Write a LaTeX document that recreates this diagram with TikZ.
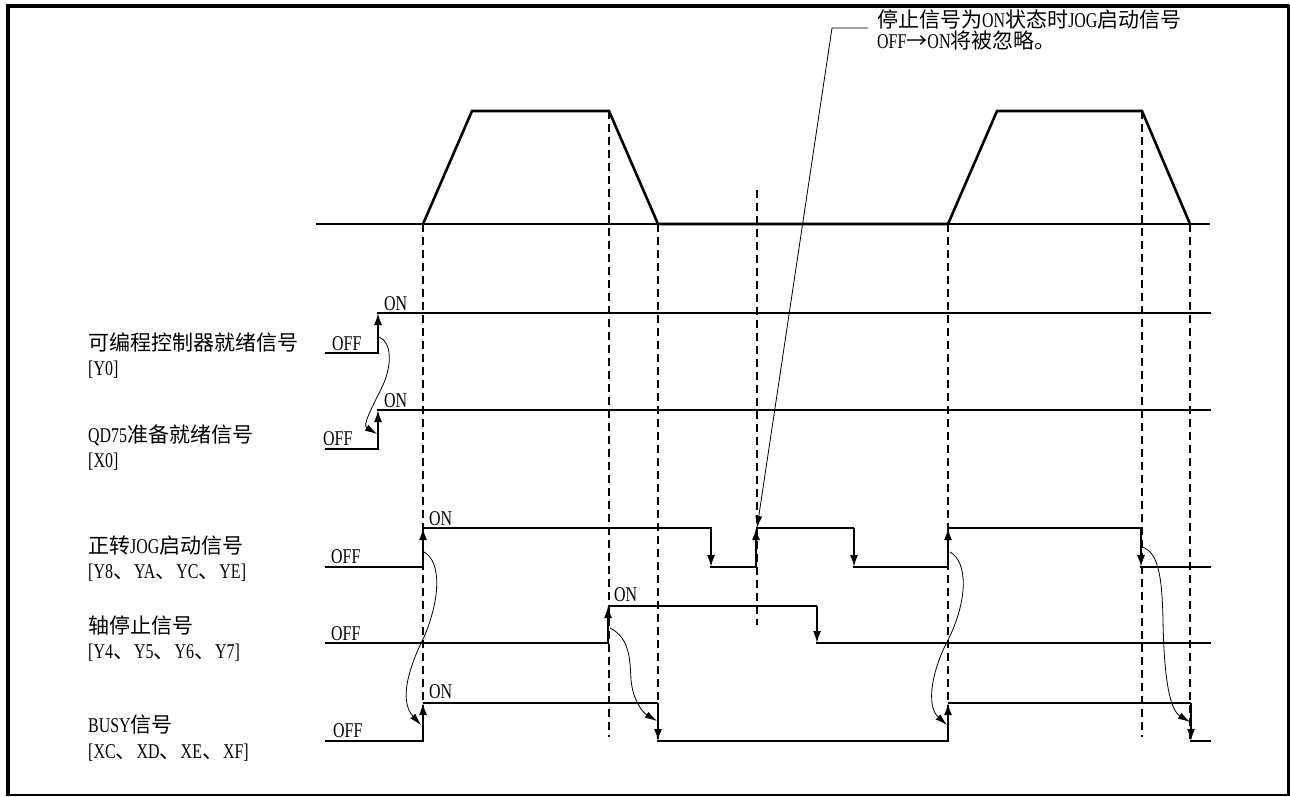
\documentclass[tikz,border=0pt]{standalone}
\usepackage{fontspec}
\setmainfont{Liberation Serif}[FakeStretch=0.76]
\newfontfamily\cj{Noto Sans CJK SC}
\usetikzlibrary{arrows.meta}
\newcommand{\dun}{{\cj 、}}
\tikzset{
  lab/.style={anchor=base west, inner sep=0pt, font=\fontsize{21}{24}\selectfont},
  sig/.style={line width=1.8pt, line cap=rect},
  sigthin/.style={line width=1.4pt},
  edge/.style={line width=1.8pt, -{Latex[length=12pt,width=8pt]}},
  cause/.style={line width=0.8pt, -{Latex[length=12pt,width=7pt]}},
  guide/.style={line width=1.2pt, dash pattern=on 8pt off 5pt},
  guidebold/.style={line width=2.2pt, dash pattern=on 8pt off 5pt},
  speed/.style={line width=2.6pt, line join=miter},
}
\begin{document}
\begin{tikzpicture}[x=1pt,y=-1pt]
\useasboundingbox (0,0) rectangle (1290,796);
% frame
\draw[line width=2.4pt] (8,6) rectangle (1288.5,795);
\draw[line width=4pt] (8,796) -- (8,6) -- (1289,6);

% speed diagram
\draw[line width=1.2pt] (316,224) -- (1210,224);
\draw[speed] (423,224) -- (472,111) -- (609,111) -- (658,224) -- (948,224) -- (997,111) -- (1142,111) -- (1190,224);

% dashed guides
\draw[guide] (423,224) -- (423,741);
\draw[guide] (609,111) -- (609,737);
\draw[guidebold] (658,224) -- (658,741);
\draw[guide] (757,190) -- (757,625);
\draw[guide] (948,224) -- (948,741);
\draw[guide] (1142,111) -- (1142,737);
\draw[guide] (1190,224) -- (1190,741);

% left labels
\node[lab] (n1a) at (88,350) {{\cj 可编程控制器就绪信号}};
\node[lab] (n1b) at (88,375) {[Y0]};
\node[lab] (n2a) at (88,442) {QD75{\cj 准备就绪信号}};
\node[lab] (n2b) at (88,467) {[X0]};
\node[lab] (n3a) at (88,553) {{\cj 正转}JOG{\cj 启动信号}};
\node[lab] (n3b) at (88,578) {[Y8\dun YA\dun YC\dun YE]};
\node[lab] (n4a) at (88,633) {{\cj 轴停止信号}};
\node[lab] (n4b) at (88,658) {[Y4\dun Y5\dun Y6\dun Y7]};
\node[lab] (n5a) at (88,732) {BUSY{\cj 信号}};
\node[lab] (n5b) at (88,758) {[XC\dun XD\dun XE\dun XF]};

% Y0
\draw[sig] (326,353) -- (378,353);
\draw[edge] (378,353) -- (378,313);
\draw[sig] (378,313) -- (1210,313);
\node[lab] (y0off) at (332,350) {OFF};
\node[lab] (y0on) at (384,310) {ON};

% X0
\draw[sig] (326,449) -- (378,449);
\draw[edge] (378,449) -- (378,410);
\draw[sig] (378,410) -- (1210,410);
\node[lab] (x0off) at (323,445) {OFF};
\node[lab] (x0on) at (384,407) {ON};

% JOG start
\draw[sig] (326,567) -- (423,567);
\draw[edge] (423,567) -- (423,528);
\draw[sig] (423,528) -- (711,528);
\draw[edge] (711,528) -- (711,567);
\draw[sig] (711,567) -- (756,567);
\draw[edge] (756,567) -- (756,528);
\draw[sigthin] (756,528) -- (854,528);
\draw[edge] (854,528) -- (854,567);
\draw[sig] (854,567) -- (948,567);
\draw[edge] (948,567) -- (948,528);
\draw[sigthin] (948,528) -- (1141,528);
\draw[edge] (1141,528) -- (1141,567);
\draw[sig] (1141,567) -- (1210,567);
\node[lab] (joff) at (331,563) {OFF};
\node[lab] (jon) at (429,525) {ON};

% axis stop
\draw[sig] (326,643) -- (608,643);
\draw[edge] (608,643) -- (608,606);
\draw[sigthin] (608,606) -- (817,606);
\draw[edge] (817,606) -- (817,643);
\draw[sig] (817,643) -- (1210,643);
\node[lab] (soff) at (331,640) {OFF};
\node[lab] (son) at (614,601) {ON};

% BUSY
\draw[sig] (326,741) -- (423,741);
\draw[edge] (423,741) -- (423,703);
\draw[sigthin] (423,703) -- (658,703);
\draw[edge] (658,703) -- (658,741);
\draw[sig] (658,741) -- (948,741);
\draw[edge] (948,741) -- (948,703);
\draw[sigthin] (948,703) -- (1191,703);
\draw[edge] (1191,703) -- (1191,741);
\draw[sig] (1191,741) -- (1210,741);
\node[lab] (boff) at (333,737) {OFF};
\node[lab] (bon) at (429,698) {ON};

% cause arrows
\coordinate (c1s) at (379,337);
\coordinate (c1e) at (377,434);
\draw[cause] (c1s) .. controls (392,342) and (392,365) .. (383,385) .. controls (372,408) and (362,425) .. (c1e);
\coordinate (c2s) at (424,552);
\coordinate (c2e) at (421,725);
\draw[cause] (c2s) .. controls (442,562) and (440,600) .. (424,637) .. controls (410,665) and (398,700) .. (c2e);
\coordinate (c3s) at (610,628);
\coordinate (c3e) at (657,721);
\draw[cause] (c3s) .. controls (630,638) and (630,660) .. (631,680) .. controls (633,700) and (642,712) .. (c3e);
\coordinate (c4s) at (950,552);
\coordinate (c4e) at (947,725);
\draw[cause] (c4s) .. controls (968,562) and (968,600) .. (948,640) .. controls (933,668) and (925,705) .. (c4e);
\coordinate (c5s) at (1142,547);
\coordinate (c5e) at (1190,722);
\draw[cause] (c5s) .. controls (1158,552) and (1162,575) .. (1163,620) .. controls (1164,680) and (1170,710) .. (c5e);

% note
\node[lab] (note1) at (877,27) {{\cj 停止信号为}ON{\cj 状态时}JOG{\cj 启动信号}};
\node[lab] (note2) at (877,48) {OFF{\cj →}ON{\cj 将被忽略。}};
\coordinate (lk) at (832,28);
\coordinate (lt) at (757,528);
\draw[line width=0.8pt, -{Latex[length=12pt,width=7pt]}] (868,28) -- (lk) -- (lt);
\end{tikzpicture}
\end{document}
